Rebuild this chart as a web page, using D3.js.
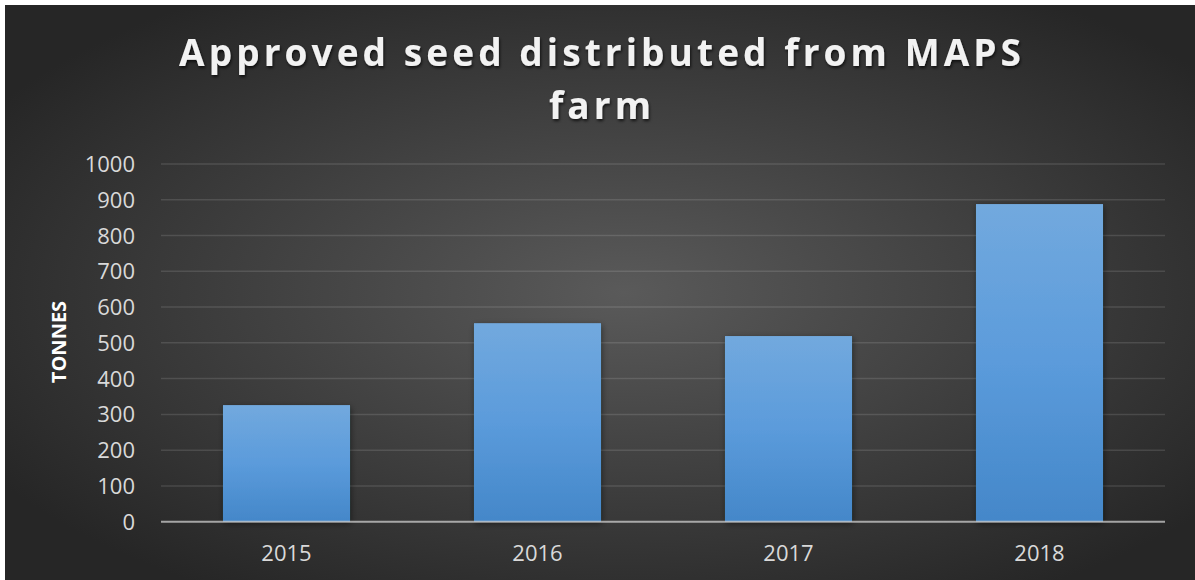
<!DOCTYPE html>
<html>
<head>
<meta charset="utf-8">
<script src="https://cdn.jsdelivr.net/npm/d3@7"></script>
<style>
  html, body { margin: 0; padding: 0; background: #ffffff; }
  svg { display: block; }
</style>
</head>
<body>
<svg id="chart" width="1195" height="580"></svg>
<script>
const categories = ["2015", "2016", "2017", "2018"];
const values = [326, 555, 519, 888];
const yTicks = [0, 100, 200, 300, 400, 500, 600, 700, 800, 900, 1000];
const titleLines = ["Approved seed distributed from MAPS", "farm"];
const yAxisTitle = "TONNES";

const W = 1195, H = 580;
const svg = d3.select("#chart");
const defs = svg.append("defs");

const bg = defs.append("radialGradient").attr("id", "bgGrad")
  .attr("cx", "52%").attr("cy", "50%").attr("r", "62%");
bg.append("stop").attr("offset", "0%").attr("stop-color", "#5a5a5a");
bg.append("stop").attr("offset", "100%").attr("stop-color", "#262626");

const barGrad = defs.append("linearGradient").attr("id", "barGrad")
  .attr("x1", 0).attr("y1", 0).attr("x2", 0).attr("y2", 1);
barGrad.append("stop").attr("offset", "0%").attr("stop-color", "#72a9de");
barGrad.append("stop").attr("offset", "50%").attr("stop-color", "#5b9bdb");
barGrad.append("stop").attr("offset", "100%").attr("stop-color", "#4487c9");

const shadow = defs.append("filter").attr("id", "shadow")
  .attr("x", "-20%").attr("y", "-20%").attr("width", "140%").attr("height", "140%");
shadow.append("feDropShadow").attr("dx", 1).attr("dy", 2).attr("stdDeviation", 3)
  .attr("flood-color", "#000").attr("flood-opacity", 0.45);

const tshadow = defs.append("filter").attr("id", "tshadow")
  .attr("x", "-10%").attr("y", "-30%").attr("width", "120%").attr("height", "160%");
tshadow.append("feDropShadow").attr("dx", 1).attr("dy", 2).attr("stdDeviation", 1.5)
  .attr("flood-color", "#000").attr("flood-opacity", 0.7);

svg.append("rect").attr("x", 5).attr("y", 5).attr("width", W - 5).attr("height", H - 5)
  .attr("fill", "url(#bgGrad)");

const plot = { left: 161, right: 1165, top: 164, bottom: 521.7 };

const x = d3.scaleBand().domain(categories).range([plot.left, plot.right]).paddingInner(0.494).paddingOuter(0.247);
const y = d3.scaleLinear().domain([0, 1000]).range([plot.bottom, plot.top]);

svg.append("g").selectAll("line").data(yTicks.filter(d => d > 0)).join("line")
  .attr("x1", plot.left).attr("x2", plot.right)
  .attr("y1", d => y(d)).attr("y2", d => y(d))
  .attr("stroke", "#ffffff").attr("stroke-opacity", 0.12).attr("stroke-width", 1.5);

const yAxis = d3.axisLeft(y).tickValues(yTicks).tickFormat(d3.format("d")).tickSize(0).tickPadding(0);
const yg = svg.append("g").attr("transform", `translate(${plot.left - 26},0)`).call(yAxis);
yg.select(".domain").remove();
yg.selectAll("text").attr("fill", "#d9d9d9").attr("font-family", "'Open Sans', sans-serif")
  .attr("font-size", 22).attr("dy", "0.34em");

svg.append("g").selectAll("rect").data(values).join("rect")
  .attr("x", (d, i) => x(categories[i]))
  .attr("width", x.bandwidth())
  .attr("y", d => y(d))
  .attr("height", d => y(0) - y(d))
  .attr("fill", "url(#barGrad)")
  .attr("filter", "url(#shadow)");

svg.append("line").attr("x1", plot.left).attr("x2", plot.right)
  .attr("y1", y(0)).attr("y2", y(0))
  .attr("stroke", "#d9d9d9").attr("stroke-opacity", 0.7).attr("stroke-width", 2);

const xAxis = d3.axisBottom(x).tickSize(0).tickPadding(0);
const xg = svg.append("g").attr("transform", `translate(0,${y(0)})`).call(xAxis);
xg.select(".domain").remove();
xg.selectAll("text").attr("fill", "#d9d9d9").attr("font-family", "'Open Sans', sans-serif")
  .attr("font-size", 22).attr("dy", null).attr("y", 39);

svg.append("text").attr("transform", "translate(66,342) rotate(-90)")
  .attr("text-anchor", "middle").attr("fill", "#ffffff")
  .attr("font-family", "'Open Sans', sans-serif").attr("font-weight", "bold")
  .attr("font-size", 20).text(yAxisTitle);

const tg = svg.append("g").attr("filter", "url(#tshadow)");
const baselines = [66, 119];
const titleTexts = titleLines.map((t, i) =>
  tg.append("text").attr("x", 600).attr("y", baselines[i])
    .attr("text-anchor", "middle").attr("fill", "#f2f2f2")
    .attr("font-family", "'Open Sans', sans-serif").attr("font-weight", "bold")
    .attr("font-size", 37).text(t));
const n0 = titleLines[0].length;
const w0 = titleTexts[0].node().getComputedTextLength();
const ls = Math.max(0, (846 - w0) / n0);
titleTexts.forEach(t => t.attr("letter-spacing", ls + "px").attr("x", 600 + ls / 2));
</script>
</body>
</html>
